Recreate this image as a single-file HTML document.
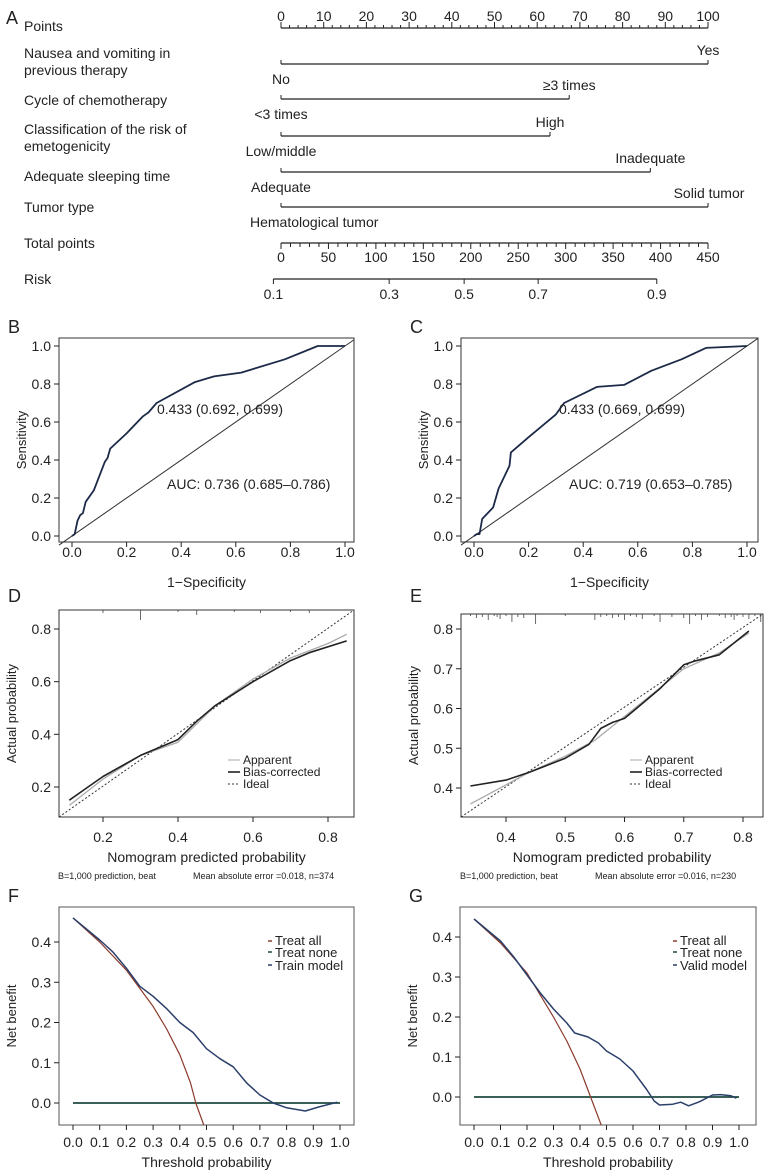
<!DOCTYPE html>
<html><head><meta charset="utf-8"><style>
html,body{margin:0;padding:0;background:#fff;width:776px;height:1172px;overflow:hidden}
svg{display:block;font-family:"Liberation Sans",sans-serif}
text{fill:#222}
</style></head><body>
<svg id="fig" width="776" height="1172" viewBox="0 0 776 1172" xmlns="http://www.w3.org/2000/svg"></svg>
<script>
// ---------- data ----------
const pointsTicks=[0,10,20,30,40,50,60,70,80,90,100];
const totalTicks=[0,50,100,150,200,250,300,350,400,450];
const riskTicks=[0.1,0.3,0.5,0.7,0.9];
const riskTickTotals=[-8,114,193,271,396];
const nomoVars=["Nausea and vomiting in|previous therapy","Cycle of chemotherapy","Classification of the risk of|emetogenicity","Adequate sleeping time","Tumor type"];
const nomoMaxPoints=[100,67.5,63,86.5,100];
const nomoLow=["No","<3 times","Low/middle","Adequate","Hematological tumor"];
const nomoHigh=["Yes","≥3 times","High","Inadequate","Solid tumor"];

const rocBx=[0,0.01,0.02,0.03,0.04,0.05,0.08,0.12,0.13,0.14,0.2,0.26,0.28,0.31,0.45,0.52,0.62,0.78,0.9,1.0];
const rocBy=[0,0.01,0.08,0.11,0.12,0.18,0.24,0.39,0.41,0.46,0.54,0.63,0.65,0.70,0.81,0.84,0.86,0.93,1.0,1.0];
const rocCx=[0,0.01,0.02,0.03,0.07,0.09,0.12,0.13,0.135,0.2,0.3,0.33,0.45,0.55,0.65,0.76,0.85,1.0];
const rocCy=[0,0.01,0.01,0.09,0.15,0.25,0.34,0.37,0.44,0.52,0.64,0.70,0.785,0.795,0.87,0.93,0.99,1.0];
const rocTicks=[0,0.2,0.4,0.6,0.8,1.0];

const calDx=[0.11,0.15,0.2,0.3,0.4,0.45,0.5,0.6,0.7,0.75,0.85];
const calDbias=[0.15,0.19,0.24,0.32,0.38,0.45,0.51,0.6,0.68,0.71,0.755];
const calDappX=[0.11,0.2,0.3,0.4,0.45,0.5,0.6,0.7,0.8,0.85];
const calDapp=[0.13,0.23,0.32,0.37,0.44,0.51,0.61,0.69,0.745,0.78];
const rugD=[0.2,0.3,0.4,0.45,0.55,0.62,0.7,0.75];
const calEx=[0.34,0.4,0.44,0.5,0.54,0.56,0.58,0.6,0.62,0.66,0.7,0.72,0.76,0.81];
const calEbias=[0.405,0.42,0.44,0.475,0.51,0.55,0.565,0.575,0.6,0.65,0.71,0.72,0.735,0.795];
const calEappX=[0.34,0.44,0.5,0.55,0.6,0.65,0.7,0.76,0.81];
const calEapp=[0.36,0.44,0.48,0.52,0.58,0.64,0.7,0.74,0.79];
const rugE=[0.34,0.35,0.36,0.37,0.38,0.385,0.39,0.40,0.41,0.42,0.43,0.45,0.5,0.55,0.56,0.57,0.58,0.59,0.6,0.61,0.62,0.63,0.65,0.66,0.68,0.7,0.71,0.72,0.73,0.74,0.76,0.77,0.78,0.785,0.79,0.8,0.81,0.82,0.83];

const dcaThr=[0,0.1,0.15,0.2,0.25,0.3,0.35,0.4,0.45,0.5,0.55,0.6,0.65,0.7,0.75,0.8,0.87,0.92,0.99];
const dcaF=[0.46,0.405,0.375,0.335,0.29,0.265,0.235,0.2,0.175,0.135,0.11,0.09,0.05,0.02,0,-0.012,-0.02,-0.01,0.002];
const allFx=[0,0.1,0.2,0.3,0.35,0.4,0.44,0.46,0.49];
const allF=[0.46,0.4,0.33,0.24,0.185,0.12,0.05,0,-0.055];
const dcaGx=[0,0.1,0.15,0.2,0.25,0.3,0.35,0.38,0.43,0.47,0.5,0.55,0.6,0.65,0.68,0.7,0.75,0.78,0.81,0.85,0.9,0.93,0.97,0.99];
const dcaG=[0.445,0.39,0.35,0.305,0.26,0.22,0.185,0.16,0.15,0.135,0.115,0.095,0.065,0.02,-0.01,-0.02,-0.018,-0.013,-0.022,-0.012,0.005,0.006,0.003,-0.003];
const allGx=[0,0.1,0.2,0.3,0.35,0.4,0.44,0.48];
const allG=[0.445,0.385,0.31,0.2,0.14,0.07,0,-0.07];
const dcaTicks=[0,0.1,0.2,0.3,0.4,0.5,0.6,0.7,0.8,0.9,1.0];
const dcaYTicks=[0,0.1,0.2,0.3,0.4];

// ---------- helpers ----------
const svg=document.getElementById('fig');
const NS='http://www.w3.org/2000/svg';
function el(tag,attrs,parent){const e=document.createElementNS(NS,tag);for(const k in attrs)e.setAttribute(k,attrs[k]);(parent||svg).appendChild(e);return e;}
function txt(x,y,s,size,anchor,parent,extra){const t=el('text',Object.assign({x:x,y:y,'font-size':size,'text-anchor':anchor||'start'},extra||{}),parent);t.textContent=s;return t;}
function lin(x1,y1,x2,y2,parent,stroke,w,dash){const a={x1:x1,y1:y1,x2:x2,y2:y2,stroke:stroke||'#222','stroke-width':w||1};if(dash)a['stroke-dasharray']=dash;return el('line',a,parent);}
function poly(xs,ys,sx,sy,parent,stroke,w,dash){const p=xs.map((x,i)=>sx(x).toFixed(1)+','+sy(ys[i]).toFixed(1)).join(' ');const a={points:p,fill:'none',stroke:stroke,'stroke-width':w,'stroke-linejoin':'round'};if(dash)a['stroke-dasharray']=dash;return el('polyline',a,parent);}
function scale(d0,d1,r0,r1){return v=>r0+(v-d0)/(d1-d0)*(r1-r0);}

// ---------- Panel A nomogram ----------
const gA=el('g',{});


const px=scale(0,100,281,708);
const tx=scale(0,450,281,708);
const FS=14;
txt(6,24,'A',18,'start',gA);
txt(24,31,'Points',FS,'start',gA);
lin(281,28,708,28,gA,'#222',1.3);
for(let i=0;i<=50;i++){const v=i*2;lin(px(v),28,px(v),v%10===0?22:25,gA);}
pointsTicks.forEach(v=>txt(px(v),21,String(v),FS,'middle',gA));
const rowY=[64,99,136,172,207];
const labY=[[58,75],[105],[134,151],[181],[212]];
nomoVars.forEach((name,i)=>{
  const g=el('g',{},gA);
  
  
  name.split('|').forEach((s,j)=>txt(24,labY[i][j],s,FS,'start',g));
  const y=rowY[i];
  lin(px(0),y,px(nomoMaxPoints[i]),y,g,'#222',1.3);
  lin(px(0),y,px(0),y-4,g);lin(px(nomoMaxPoints[i]),y,px(nomoMaxPoints[i]),y-4,g);
  const hx=px(nomoMaxPoints[i]);
  txt(i===4?hx+1:hx,y-9,nomoHigh[i],FS,'middle',g);
  const lx=px(0);
  txt(i===4?250:lx,y+20,nomoLow[i],FS,i===4?'start':'middle',g);
});
txt(24,248,'Total points',FS,'start',gA);
lin(281,243,708,243,gA,'#222',1.3);
for(let i=0;i<=45;i++){const v=i*10;lin(tx(v),243,tx(v),v%50===0?249:247,gA);}
totalTicks.forEach(v=>txt(tx(v),262,String(v),FS,'middle',gA));
txt(24,284,'Risk',FS,'start',gA);
const rx0=tx(riskTickTotals[0]),rx1=tx(riskTickTotals[riskTickTotals.length-1]);
lin(rx0,279,rx1,279,gA,'#222',1.3);
riskTicks.forEach((v,i)=>{const x=tx(riskTickTotals[i]);lin(x,279,x,284,gA);txt(x,299,String(v),FS,'middle',gA);});

// ---------- ROC panels ----------
function roc(letter,L,R,T,B,x0,x1,y1,y0,xs,ys,lab1,lab2){
  const g=el('g',{});
  
  
  const sx=scale(0,1,x0,x1),sy=scale(0,1,y0,y1);
  txt(L-51,333,letter,18,'start',g);
  el('rect',{x:L,y:T,width:R-L,height:B-T,fill:'none',stroke:'#333','stroke-width':1},g);
  rocTicks.forEach(v=>{lin(sx(v),B,sx(v),B+5,g);txt(sx(v),557,v.toFixed(1),14,'middle',g);
    lin(L,sy(v),L-5,sy(v),g);txt(L-8,sy(v)+5,v.toFixed(1),14,'end',g);});
  const dx0=L,dy0=sy(scale(x0,x1,0,1)(L)),dx1=R,dy1=sy(scale(x0,x1,0,1)(R));
  const d=lin(dx0,dy0,dx1,dy1,g,'#333',1);
  
  
  const c=poly(xs,ys,sx,sy,g,'#1c2a48',1.8);
  
  
  txt(L+98,414,lab1,14,'start',g);
  txt(L+108,489,lab2,14,'start',g);
  txt((L+R)/2,587,'1−Specificity',14,'middle',g);
  const yt=txt(0,0,'Sensitivity',13,'middle',g,{transform:'translate('+(L-33)+','+((T+B)/2)+') rotate(-90)'});
  
  
}
roc('B',59,354,338,542,72,345,346,536,rocBx,rocBy,'0.433 (0.692, 0.699)','AUC: 0.736 (0.685–0.786)');
roc('C',461,758,338,542,474,747,346,536,rocCx,rocCy,'0.433 (0.669, 0.699)','AUC: 0.719 (0.653–0.785)');

// ---------- Calibration panels ----------
function cal(letter,L,R,T,B,sx,sy,xt,yt,bx,by,ax,ay,rug,rugH,foot1,foot2){
  const g=el('g',{});
  
  
  txt(L-51,602,letter,18,'start',g);
  el('rect',{x:L,y:T,width:R-L,height:B-T,fill:'none',stroke:'#333','stroke-width':1},g);
  xt.forEach(v=>{lin(sx(v),B,sx(v),B+5,g);txt(sx(v),842,v.toFixed(1),14,'middle',g);});
  yt.forEach(v=>{lin(L,sy(v),L-5,sy(v),g);txt(L-8,sy(v)+5,v.toFixed(1),14,'end',g);});
  rug.forEach((v,i)=>{const h=rugH[i%rugH.length];lin(sx(v),T,sx(v),T+h,g,'#444',0.8);});
  const id=lin(L,B,R,T,g,'#333',1,'2,2');
  
  
  const a=poly(ax,ay,sx,sy,g,'#aaa',1.3);
  
  
  const b=poly(bx,by,sx,sy,g,'#222',1.6);
  
  
  const lg=el('g',{},g);
  
  
  const lx=L+169;
  lin(lx,760,lx+12,760,lg,'#aaa',1);txt(lx+15,764,'Apparent',12,'start',lg);
  lin(lx,772,lx+12,772,lg,'#222',1.6);txt(lx+15,776,'Bias-corrected',12,'start',lg);
  lin(lx,784,lx+12,784,lg,'#333',1,'2,2');txt(lx+15,788,'Ideal',12,'start',lg);
  txt((L+R)/2,862,'Nomogram predicted probability',14,'middle',g);
  const y=txt(0,0,'Actual probability',13,'middle',g,{transform:'translate('+(L-43)+','+((T+B)/2)+') rotate(-90)'});
  
  
  txt(L-1,879,foot1,9,'start',g);
  txt(L+134,879,foot2,9,'start',g);
}
cal('D',59,354,610,817,scale(0.2,0.8,103,328),scale(0.2,0.8,787,629),[0.2,0.4,0.6,0.8],[0.2,0.4,0.6,0.8],
  calDx,calDbias,calDappX,calDapp,rugD,[3,10,2,5,2,3,2,3],'B=1,000 prediction, beat','Mean absolute error =0.018, n=374');
cal('E',461,763,614,817,scale(0.4,0.8,506,743),scale(0.4,0.8,788,629),[0.4,0.5,0.6,0.7,0.8],[0.4,0.5,0.6,0.7,0.8],
  calEx,calEbias,calEappX,calEapp,rugE,[2,4,3,6,2,3,5,2,8,3,4,10,2,6,3],'B=1,000 prediction, beat','Mean absolute error =0.016, n=230');

// ---------- DCA panels ----------
function dca(letter,L,R,T,B,x0,x1,yTop,yBot,ax,ay,mx,my,modelName){
  const g=el('g',{});
  
  
  const sx=scale(0,1,x0,x1),sy=scale(0,0.4,yBot,yTop);
  txt(L-51,902,letter,18,'start',g);
  el('rect',{x:L,y:T,width:R-L,height:B-T,fill:'none',stroke:'#555','stroke-width':1},g);
  dcaTicks.forEach(v=>{lin(sx(v),B,sx(v),B+5,g);txt(sx(v),1147,v.toFixed(1),14,'middle',g);});
  dcaYTicks.forEach(v=>{lin(L,sy(v),L-5,sy(v),g);txt(L-8,sy(v)+5,v.toFixed(1),14,'end',g);});
  const n=lin(sx(0),sy(0),sx(1),sy(0),g,'#1f4a3f',1.8);
  
  
  const cp='dca-clip-'+letter;
  const cl=el('clipPath',{id:cp},g);el('rect',{x:L,y:T,width:R-L,height:B-T},cl);
  const a=poly(ax,ay,sx,sy,g,'#8b3a2a',1.2);a.setAttribute('clip-path','url(#'+cp+')');
  
  
  const m=poly(mx,my,sx,sy,g,'#2a3f6a',1.5);
  
  
  const lg=el('g',{},g);
  
  
  const lx=letter==='F'?268:673;
  lin(lx,941,lx+4,941,lg,'#8b3a2a',1.5);txt(lx+7,945,'Treat all',13,'start',lg);
  lin(lx,952,lx+4,952,lg,'#1f4a3f',1.5);txt(lx+7,957,'Treat none',13,'start',lg);
  lin(lx,965,lx+4,965,lg,'#2a3f6a',1.5);txt(lx+7,970,modelName,13,'start',lg);
  txt((L+R)/2,1167,'Threshold probability',14,'middle',g);
  const y=txt(0,0,'Net benefit',13,'middle',g,{transform:'translate('+(L-43)+','+((T+B)/2)+') rotate(-90)'});
  
  
}
dca('F',59,354,907,1125,73,340,942,1103,allFx,allF,dcaThr,dcaF,'Train model');
dca('G',460,756,907,1125,474,739,937,1097,allGx,allG,dcaGx,dcaG,'Valid model');
</script>
</body></html>
